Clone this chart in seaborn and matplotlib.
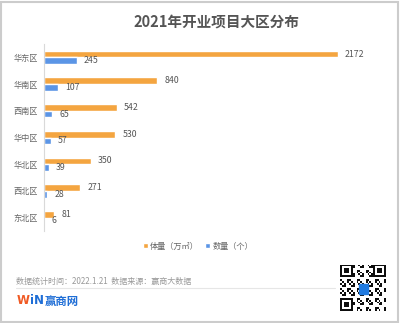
import matplotlib
matplotlib.use("Agg")
import matplotlib.pyplot as plt
import seaborn as sns
import pandas as pd
import numpy as np
from matplotlib.patches import Patch, Rectangle

regions = ["华东区", "华南区", "西南区", "华中区", "华北区", "西北区", "东北区"]
area = [2172, 840, 542, 530, 350, 271, 81]
count = [245, 107, 65, 57, 39, 28, 6]
series = ["体量（万㎡）", "数量（个）"]
title = "2021年开业项目大区分布"
footer = "数据统计时间：2022.1.21  数据来源：赢商大数据"

df = pd.DataFrame({
    "region": regions * 2,
    "value": area + count,
    "series": [series[0]] * len(regions) + [series[1]] * len(regions),
})

sns.set_theme(style="white")
plt.rcParams['font.family'] = ['Noto Sans CJK SC', 'DejaVu Sans']

W, H = 400, 323
fig = plt.figure(figsize=(W / 100, H / 100), dpi=100)
fig.patch.set_facecolor("white")

def fx(px):
    return px / W

def fy(py):
    return 1 - py / H

ax_left, ax_right, ax_top, ax_bot = 43.5, 383, 44, 231
ax = fig.add_axes([fx(ax_left), fy(ax_bot), fx(ax_right - ax_left), (ax_bot - ax_top) / H])

colors = ["#F4A540", "#5B95E6"]
sns.barplot(data=df, y="region", x="value", hue="series", orient="h",
            palette=colors, width=0.5, dodge=True, ax=ax, legend=False,
            saturation=1)
ax.set_xlim(0, 2172 * (ax_right - ax_left) / (338 - ax_left))
ax.set_ylim(len(regions) - 0.5, -0.5)
for s in ["top", "right", "bottom"]:
    ax.spines[s].set_visible(False)
ax.spines["left"].set_color("#d9d9d9")
ax.spines["left"].set_linewidth(0.8)
ax.set_xticks([])
ax.set_xlabel("")
ax.set_ylabel("")
ax.tick_params(axis="y", length=0, pad=4, labelsize=5.9, labelcolor="#666666")
for c in ax.containers:
    ax.bar_label(c, padding=5, fontsize=6.3, color="#555555")

# title
fig.text(fx(216), fy(22), title, ha="center", va="center", fontsize=10.5,
         fontweight="bold", color="#555555")

# legend
handles = [Patch(facecolor=colors[0], label=series[0]),
           Patch(facecolor=colors[1], label=series[1])]
fig.legend(handles=handles, loc="center", bbox_to_anchor=(fx(198), fy(246)),
           ncol=2, frameon=False, fontsize=5.9, handlelength=0.6, handleheight=0.6,
           handletextpad=0.3, columnspacing=0.8, labelcolor="#666666")

# footer
fig.text(fx(16), fy(281), footer, ha="left", va="center", fontsize=5.8, color="#999999")
fig.add_artist(plt.Line2D([fx(16), fx(335)], [fy(288), fy(288)], color="#e6e6e6", lw=0.8))
fig.text(fx(17), fy(301), "W", ha="left", va="center", fontsize=8.5, fontweight="bold",
         color="#F05A24", family=["DejaVu Sans"])
fig.text(fx(30), fy(301), "iN", ha="left", va="center", fontsize=8.5, fontweight="bold",
         color="#1F6ED6", family=["DejaVu Sans"])
fig.text(fx(45), fy(301), "赢商网", ha="left", va="center", fontsize=8.2, fontweight="bold",
         color="#1F6ED6")

# QR-like decoration
qax = fig.add_axes([fx(339), fy(311), fx(47), 46 / H])
n = 25
grid = np.zeros((n, n))
for i in range(n):
    for j in range(n):
        grid[i, j] = 1 if ((i * 7 + j * 3 + i * j) % 5 < 2) else 0
def finder(r, c):
    grid[r:r + 7, c:c + 7] = 1
    grid[r + 1:r + 6, c + 1:c + 6] = 0
    grid[r + 2:r + 5, c + 2:c + 5] = 1
finder(0, 0); finder(0, n - 7); finder(n - 7, 0)
qax.imshow(grid, cmap="Greys", vmin=0, vmax=1.05, interpolation="nearest")
qax.add_patch(Rectangle((10, 10), 5, 5, color="#1F7AE0"))
qax.axis("off")

# border
fig.add_artist(Rectangle((0.003, 0.004), 0.991, 0.991, fill=False, edgecolor="#cccccc",
                         lw=1.5, transform=fig.transFigure))

fig.savefig("out.png", dpi=100)
